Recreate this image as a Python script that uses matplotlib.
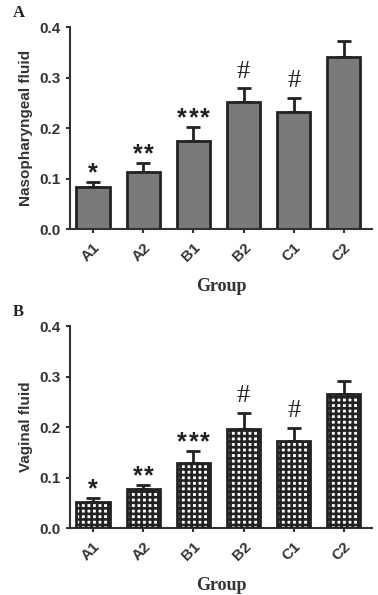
import numpy as np
import matplotlib
matplotlib.use('Agg')
import matplotlib.pyplot as plt

groups = ['A1', 'A2', 'B1', 'B2', 'C1', 'C2']
naso_mean = [0.083, 0.113, 0.174, 0.252, 0.231, 0.341]
naso_err = [0.010, 0.017, 0.028, 0.027, 0.029, 0.032]
vag_mean = [0.051, 0.078, 0.128, 0.196, 0.172, 0.265]
vag_err = [0.008, 0.007, 0.024, 0.032, 0.026, 0.026]
marks = ['*', '**', '***', '#', '#', '']

plt.rcParams['font.family'] = ['Liberation Sans', 'DejaVu Sans']
plt.rcParams['hatch.linewidth'] = 1.9


def panel(ax, means, errs, ylabel, letter, hatched):
    x = np.arange(len(groups))
    if hatched:
        ax.bar(x, means, width=0.66, color='white', edgecolor='#222222',
               hatch='+++', linewidth=0, zorder=2)
        ax.bar(x, means, width=0.66, fill=False, edgecolor='#222222',
               linewidth=2, zorder=3)
    else:
        ax.bar(x, means, width=0.66, color='#7a7a7a', edgecolor='#222222',
               linewidth=2, zorder=2)
    ax.errorbar(x, means, yerr=[np.zeros(len(errs)), errs], fmt='none',
                ecolor='#222222', elinewidth=2, capsize=5, capthick=2,
                zorder=1)
    for xi, m, e, s in zip(x, means, errs, marks):
        if s == '#':
            ax.annotate(s, (xi, m + e), xytext=(0, 4),
                        textcoords='offset points', ha='center', va='bottom',
                        fontsize=19, family='Liberation Serif',
                        color='#222222')
        elif s:
            n = len(s)
            for k in range(n):
                dx = (k - (n - 1) / 2) * 8
                ax.annotate('*', (xi, m + e), xytext=(dx, -2),
                            textcoords='offset points', ha='center',
                            va='bottom', fontsize=18, fontweight='bold',
                            color='#222222')
    ax.set_xlim(-0.46, 5.56)
    ax.set_ylim(0, 0.4)
    ax.set_yticks([0.0, 0.1, 0.2, 0.3, 0.4])
    ax.set_yticklabels(['0.0', '0.1', '0.2', '0.3', '0.4'])
    ax.set_xticks(x)
    ax.set_xticklabels(groups, rotation=45, ha='right', rotation_mode='anchor')
    for lab in ax.get_xticklabels() + ax.get_yticklabels():
        lab.set_fontweight('bold')
        lab.set_fontsize(11)
        lab.set_color('#333333')
    ax.spines['top'].set_visible(False)
    ax.spines['right'].set_visible(False)
    for sp in ['left', 'bottom']:
        ax.spines[sp].set_linewidth(1.5)
        ax.spines[sp].set_color('#333333')
    ax.tick_params(width=1.5, length=3, color='#333333')
    ax.tick_params(axis='x', pad=5)
    ax.set_ylabel(ylabel, fontsize=11, fontweight='bold', color='#333333',
                  labelpad=5)
    ax.set_xlabel('Group', fontsize=13, fontweight='bold',
                  family='Liberation Serif', color='#333333', labelpad=10)
    ax.text(-0.19, 1.07, letter, transform=ax.transAxes, fontsize=12,
            fontweight='bold', family='Liberation Serif', color='#222222',
            va='center')


fig = plt.figure(figsize=(3.78, 5.95), dpi=100)
ax1 = fig.add_axes([0.185, 0.615, 0.799, 0.3395])
ax2 = fig.add_axes([0.185, 0.1126, 0.799, 0.3395])
panel(ax1, naso_mean, naso_err, 'Nasopharyngeal fluid', 'A', False)
panel(ax2, vag_mean, vag_err, 'Vaginal fluid', 'B', True)

fig.savefig('out.png', dpi=100)
